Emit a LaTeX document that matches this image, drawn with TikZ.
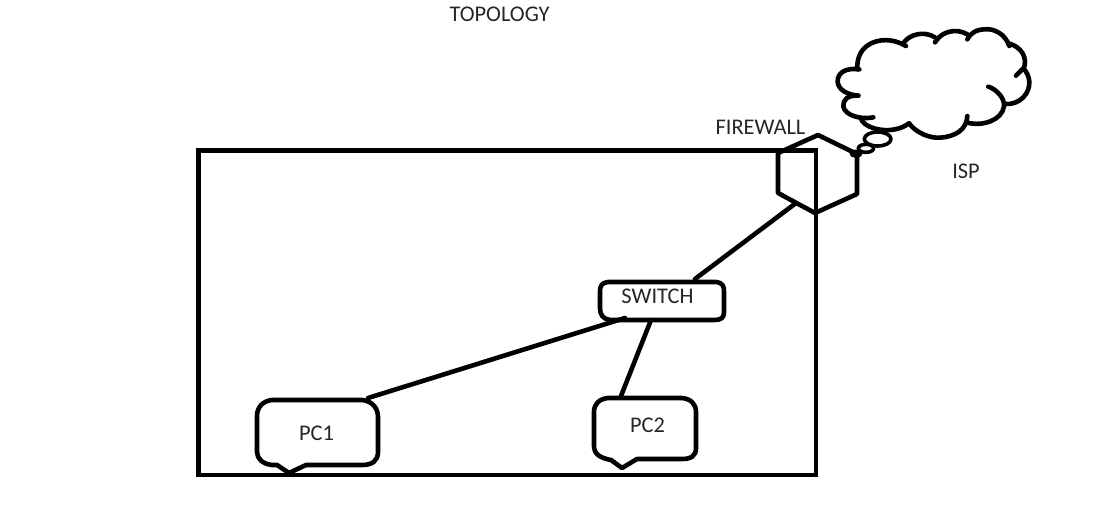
\documentclass[tikz,border=0pt]{standalone}
\usepackage{fontspec}
\setmainfont{Carlito}
\begin{document}
\begin{tikzpicture}[x=1pt,y=-1pt,
  ink/.style={draw=black,line width=4.6pt,line join=round,line cap=round},
  thin ink/.style={draw=black,line width=3.6pt,line join=round,line cap=round},
  lab/.style={inner sep=0pt,text=black!85,font=\fontsize{22.4}{24}\selectfont}]
\useasboundingbox (0,0) rectangle (1096,522);
% room
\draw[line width=4.6pt,line join=miter] (198.5,150.5) rectangle (816,475);
% firewall
\draw[ink] (818,135) -- (857,154) -- (857,194) -- (815,213) -- (778,193) -- (778,153) -- cycle;
% switch
\draw[ink,fill=white] (608,282) -- (716,282) .. controls (723,283) and (724,286) .. (724,292)
  -- (724,312) .. controls (724,318) and (721,320) .. (714,320)
  -- (610,320) .. controls (603,319) and (600,315) .. (600,308)
  -- (600,292) .. controls (600,285) and (602,283) .. (608,282) -- cycle;
% PC1
\draw[ink,fill=white] (272,400) -- (362,400) .. controls (372,401) and (378,408) .. (378,417)
  -- (378,452) .. controls (378,461) and (372,465) .. (362,465)
  -- (306,465) -- (289,473) -- (277,465) -- (272,465) .. controls (263,464) and (257,459) .. (257,452)
  -- (257,416) .. controls (257,407) and (263,401) .. (272,400) -- cycle;
% PC2
\draw[ink,fill=white] (608,398) -- (682,398) .. controls (691,399) and (696,404) .. (696,412)
  -- (696,448) .. controls (696,456) and (691,459) .. (682,459)
  -- (637,459) -- (622,468) -- (611,460) .. controls (600,458) and (594,454) .. (594,446)
  -- (594,412) .. controls (594,404) and (599,399) .. (608,398) -- cycle;
% cloud
\begin{scope}[shift={(760,10)},scale=1/3]
\draw[ink] (298,178) .. controls (255,172) and (232,190) .. (233,215) .. controls (234,240) and (265,255) .. (295,257);
\draw[ink] (295,257) .. controls (262,255) and (248,270) .. (250,290) .. controls (255,315) and (300,330) .. (340,322);
\draw[ink] (305,332) .. controls (325,360) and (400,375) .. (447,340);
\draw[ink] (447,340) .. controls (470,370) and (510,385) .. (540,383) .. controls (585,380) and (620,360) .. (622,318);
\draw[ink] (622,338) .. controls (670,350) and (725,330) .. (732,290) .. controls (735,265) and (710,238) .. (685,230);
\draw[ink] (735,282) .. controls (780,285) and (810,250) .. (808,215) .. controls (807,200) and (800,185) .. (790,175) -- (768,197);
\draw[ink] (790,178) .. controls (805,145) and (785,110) .. (745,100);
\draw[ink] (748,108) .. controls (735,70) and (700,55) .. (675,58) .. controls (650,58) and (630,70) .. (622,88);
\draw[ink] (628,78) .. controls (610,60) and (555,50) .. (525,97);
\draw[ink] (525,82) .. controls (490,60) and (445,75) .. (430,100);
\draw[ink] (438,108) .. controls (400,85) and (355,85) .. (325,105) .. controls (300,120) and (290,150) .. (292,178);
\draw[thin ink] (353,387) ellipse [x radius=40,y radius=21];
\draw[thin ink] (318,415) ellipse [x radius=23,y radius=12];
\draw[thin ink] (288,431) ellipse [x radius=14,y radius=7];
\end{scope}
% connectors
\coordinate (fwEnd) at (796,203);
\coordinate (swTop) at (695,279);
\coordinate (swLeft) at (625,318);
\coordinate (pc1End) at (368,398);
\coordinate (swBottom) at (651,320);
\coordinate (pc2End) at (621,396);
\draw[ink] (fwEnd) -- (swTop);
\draw[ink] (swLeft) -- (pc1End);
\draw[ink] (swBottom) -- (pc2End);
% labels
\node[lab] (title) at (499.5,14) {TOPOLOGY};
\node[lab] (firewall) at (760.5,127) {FIREWALL};
\node[lab] (isp) at (966,171) {ISP};
\node[lab] (switch) at (657.5,296) {SWITCH};
\node[lab] (pcone) at (316.5,433) {PC1};
\node[lab] (pctwo) at (647.5,425) {PC2};
\end{tikzpicture}
\end{document}
